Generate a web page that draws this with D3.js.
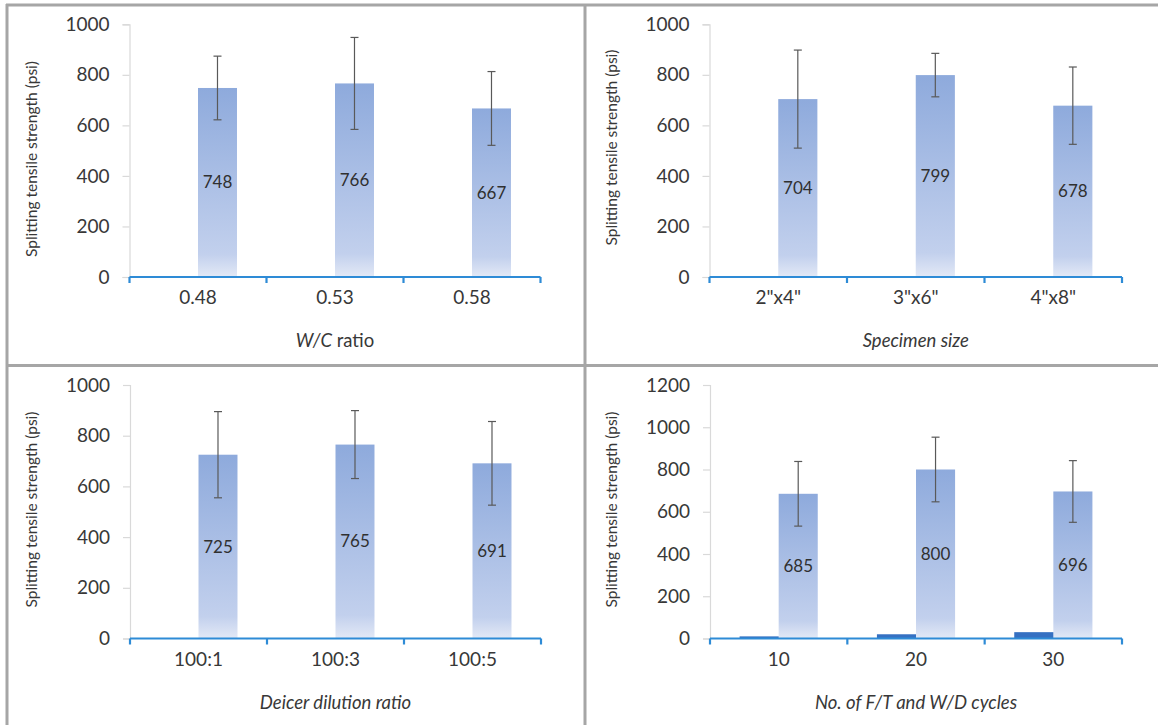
<!DOCTYPE html>
<html>
<head>
<meta charset="utf-8">
<script src="https://cdn.jsdelivr.net/npm/d3@7"></script>
<style>
  html, body { margin: 0; padding: 0; background: #ffffff; }
  svg { display: block; }
  text { font-family: Lato, "Open Sans", sans-serif; }
</style>
</head>
<body>
<svg id="chart" width="1158" height="725"></svg>
<script>
// ---------------- data ----------------
const catsWC = ["0.48", "0.53", "0.58"];
const valsWC = [748, 766, 667];
const errWC = [126, 182, 146];

const catsSize = ['2"x4"', '3"x6"', '4"x8"'];
const valsSize = [704, 799, 678];
const errSize = [194, 86, 153];

const catsDeicer = ["100:1", "100:3", "100:5"];
const valsDeicer = [725, 765, 691];
const errDeicer = [170, 134, 165];

const catsCycles = ["10", "20", "30"];
const valsCycles = [685, 800, 696];
const errCycles = [153, 153, 146];
const cycleCounts = [10, 20, 30];

const yTicks1000 = [0, 200, 400, 600, 800, 1000];
const yTicks1200 = [0, 200, 400, 600, 800, 1000, 1200];

const yTitle = "Splitting tensile strength (psi)";

// ---------------- layout ----------------
const panels = [
  { cats: catsWC, vals: valsWC, errs: errWC, small: null, ticks: yTicks1000, max: 1000,
    title: [["W/C", true], [" ratio", false]],
    left: 129.5, right: 540.5, top: 24.3, bottom: 277, yTitleX: 32, yTitleY: 159 },
  { cats: catsSize, vals: valsSize, errs: errSize, small: null, ticks: yTicks1000, max: 1000,
    title: [["Specimen size", true]],
    left: 709.5, right: 1122, top: 24.3, bottom: 277, yTitleX: 612, yTitleY: 147.5 },
  { cats: catsDeicer, vals: valsDeicer, errs: errDeicer, small: null, ticks: yTicks1000, max: 1000,
    title: [["Deicer dilution ratio", true]],
    left: 130, right: 541, top: 385, bottom: 638.5, yTitleX: 32, yTitleY: 509.5 },
  { cats: catsCycles, vals: valsCycles, errs: errCycles, small: cycleCounts, ticks: yTicks1200, max: 1200,
    title: [["No. of F/T and W/D cycles", true]],
    left: 710, right: 1122, top: 385, bottom: 638.5, yTitleX: 612, yTitleY: 509.5 }
];

const svg = d3.select("#chart");

const defs = svg.append("defs");
const grad = defs.append("linearGradient")
  .attr("id", "barGrad").attr("x1", 0).attr("y1", 0).attr("x2", 0).attr("y2", 1);
grad.append("stop").attr("offset", "0%").attr("stop-color", "#8eaadc");
grad.append("stop").attr("offset", "88%").attr("stop-color", "#c2d0ed");
grad.append("stop").attr("offset", "100%").attr("stop-color", "#e3e9f6");

// panel frame lines
const frame = svg.append("g").attr("stroke", "#a6a6a6").attr("stroke-width", 3).attr("fill", "none");
frame.append("line").attr("x1", 6).attr("x2", 1158).attr("y1", 5).attr("y2", 5);
frame.append("line").attr("x1", 7).attr("x2", 7).attr("y1", 4).attr("y2", 725);
frame.append("line").attr("x1", 585).attr("x2", 585).attr("y1", 4).attr("y2", 725);
frame.append("line").attr("x1", 6).attr("x2", 1158).attr("y1", 365.5).attr("y2", 365.5);

const axisBlue = "#2e8bd6";
const textColor = "#383838";

panels.forEach(p => {
  const g = svg.append("g");
  const x = d3.scaleBand().domain(p.cats).range([p.left, p.right]).paddingInner(0).paddingOuter(0);
  const sub = d3.scaleBand().domain(["count", "strength"]).range([0, x.bandwidth()])
    .paddingInner(0).paddingOuter(0.757);
  const y = d3.scaleLinear().domain([0, p.max]).range([p.bottom, p.top]);

  // y axis
  const yAxis = d3.axisLeft(y).tickValues(p.ticks).tickSize(7).tickPadding(13).tickFormat(d3.format("d"));
  const yg = g.append("g").attr("transform", `translate(${p.left},0)`).call(yAxis);
  yg.select(".domain").attr("stroke", "#d9d9d9").attr("stroke-width", 1.2);
  yg.selectAll(".tick line").attr("stroke", "#d9d9d9").attr("stroke-width", 1.2);
  yg.selectAll(".tick text").attr("fill", textColor).style("font-size", "19px")
    .style("font-family", "Lato, sans-serif");

  // bars
  g.selectAll("rect.main").data(p.vals).join("rect")
    .attr("class", "main")
    .attr("x", (d, i) => x(p.cats[i]) + sub("strength"))
    .attr("width", sub.bandwidth())
    .attr("y", d => y(d))
    .attr("height", d => y(0) - y(d))
    .attr("fill", "url(#barGrad)");

  if (p.small) {
    g.selectAll("rect.small").data(p.small).join("rect")
      .attr("class", "small")
      .attr("x", (d, i) => x(p.cats[i]) + sub("count"))
      .attr("width", sub.bandwidth())
      .attr("y", d => y(d))
      .attr("height", d => y(0) - y(d))
      .attr("fill", "#3570c2");
  }

  // error bars
  const eg = g.append("g").attr("stroke", "#595959").attr("stroke-width", 1.2);
  p.vals.forEach((v, i) => {
    const cx = x(p.cats[i]) + sub("strength") + sub.bandwidth() / 2;
    const e = p.errs[i];
    eg.append("line").attr("x1", cx).attr("x2", cx).attr("y1", y(v + e)).attr("y2", y(v - e));
    eg.append("line").attr("x1", cx - 4).attr("x2", cx + 4).attr("y1", y(v + e)).attr("y2", y(v + e));
    eg.append("line").attr("x1", cx - 4).attr("x2", cx + 4).attr("y1", y(v - e)).attr("y2", y(v - e));
  });

  // data labels
  g.selectAll("text.val").data(p.vals).join("text")
    .attr("class", "val")
    .attr("x", (d, i) => x(p.cats[i]) + sub("strength") + sub.bandwidth() / 2)
    .attr("y", d => (y(d) + y(0)) / 2)
    .attr("dy", "0.35em")
    .attr("text-anchor", "middle")
    .attr("fill", "#303030")
    .style("font-size", "17px")
    .text(d => d);

  // x axis
  const xAxis = d3.axisBottom(x).tickSize(0).tickPadding(14);
  const xg = g.append("g").attr("transform", `translate(0,${p.bottom})`).call(xAxis);
  xg.select(".domain").remove();
  xg.selectAll(".tick text").attr("fill", textColor).style("font-size", "19px")
    .style("font-family", "Lato, sans-serif");
  g.append("line").attr("x1", p.left).attr("x2", p.right).attr("y1", p.bottom).attr("y2", p.bottom)
    .attr("stroke", axisBlue).attr("stroke-width", 2.2);
  const edges = p.cats.map(c => x(c)).concat([p.right]);
  g.selectAll("line.ctick").data(edges).join("line")
    .attr("class", "ctick")
    .attr("x1", d => d).attr("x2", d => d)
    .attr("y1", p.bottom).attr("y2", p.bottom + 6)
    .attr("stroke", axisBlue).attr("stroke-width", 2.2);

  // x title
  const t = g.append("text")
    .attr("x", (p.left + p.right) / 2)
    .attr("y", p.bottom + 70)
    .attr("text-anchor", "middle")
    .attr("fill", textColor)
    .style("font-size", "18.5px");
  p.title.forEach(([s, it]) => {
    t.append("tspan").style("font-style", it ? "italic" : "normal").text(s);
  });

  // y title
  g.append("text")
    .attr("transform", `translate(${p.yTitleX},${p.yTitleY}) rotate(-90)`)
    .attr("text-anchor", "middle")
    .attr("dy", "0.35em")
    .attr("fill", textColor)
    .style("font-size", "15.5px")
    .text(yTitle);
});
</script>
</body>
</html>
